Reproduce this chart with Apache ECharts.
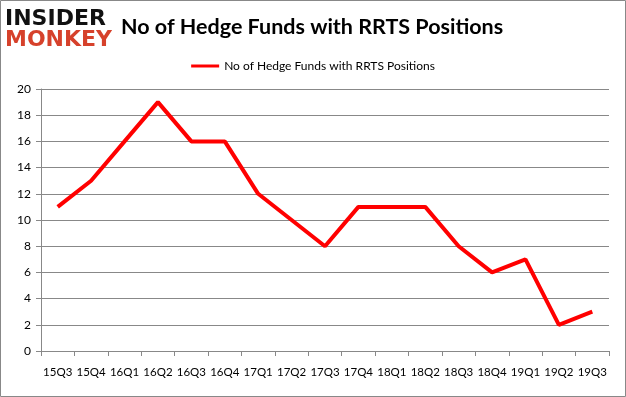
<!DOCTYPE html>
<html>
<head>
<meta charset="utf-8">
<script src="https://cdn.jsdelivr.net/npm/echarts@6/dist/echarts.min.js"></script>
<style>
  html, body { margin: 0; padding: 0; background: #fff; }
  #chart { width: 626px; height: 397px; }
</style>
</head>
<body>
<div id="chart"></div>
<script>
// quarters on the x axis
const quarters = ['15Q3', '15Q4', '16Q1', '16Q2', '16Q3', '16Q4', '17Q1', '17Q2', '17Q3',
  '17Q4', '18Q1', '18Q2', '18Q3', '18Q4', '19Q1', '19Q2', '19Q3'];
// number of hedge funds holding RRTS
const fundCounts = [11, 13, 16, 19, 16, 16, 12, 10, 8, 11, 11, 11, 8, 6, 7, 2, 3];
const seriesName = 'No of Hedge Funds with RRTS Positions';

const chart = echarts.init(document.getElementById('chart'));
const labelFont = 'Lato, "Open Sans", sans-serif';

chart.setOption({
  animation: false,
  title: {
    text: 'No of Hedge Funds with RRTS Positions',
    left: 116,
    top: 11,
    textStyle: { fontFamily: labelFont, fontSize: 21.5, fontWeight: 'bold', color: '#000' }
  },
  legend: {
    top: 55,
    left: 'center',
    itemWidth: 28,
    itemHeight: 3,
    icon: 'rect',
    data: [seriesName],
    textStyle: { fontFamily: labelFont, fontSize: 12, color: '#000' }
  },
  graphic: [
    {
      type: 'rect',
      shape: { x: 0.5, y: 0.5, width: 625, height: 396 },
      style: { fill: null, stroke: '#888', lineWidth: 1 }
    },
    {
      type: 'text',
      left: 5,
      top: 8,
      style: { text: 'INSIDER', font: '900 22px "DejaVu Sans", sans-serif', fill: '#111' }
    },
    {
      type: 'text',
      left: 5,
      top: 29,
      style: { text: 'MONKEY', font: '900 22px "DejaVu Sans", sans-serif', fill: '#d6412b' }
    }
  ],
  grid: { left: 41, right: 17, top: 89, bottom: 46 },
  xAxis: {
    type: 'category',
    data: quarters,
    boundaryGap: true,
    axisLine: { lineStyle: { color: '#888' } },
    axisTick: { show: true, alignWithLabel: false, length: 5, lineStyle: { color: '#888' } },
    axisLabel: { interval: 0, margin: 15, fontFamily: labelFont, fontSize: 11.5, color: '#000' }
  },
  yAxis: {
    type: 'value',
    min: 0,
    max: 20,
    interval: 2,
    axisLine: { show: true, lineStyle: { color: '#888' } },
    axisTick: { show: true, length: 5, lineStyle: { color: '#888' } },
    splitLine: { lineStyle: { color: '#888' } },
    axisLabel: { margin: 10, fontFamily: labelFont, fontSize: 12, color: '#000' }
  },
  series: [{
    name: seriesName,
    type: 'line',
    data: fundCounts,
    symbol: 'none',
    lineStyle: { color: '#ff0000', width: 4 },
    itemStyle: { color: '#ff0000' }
  }]
});
</script>
</body>
</html>
